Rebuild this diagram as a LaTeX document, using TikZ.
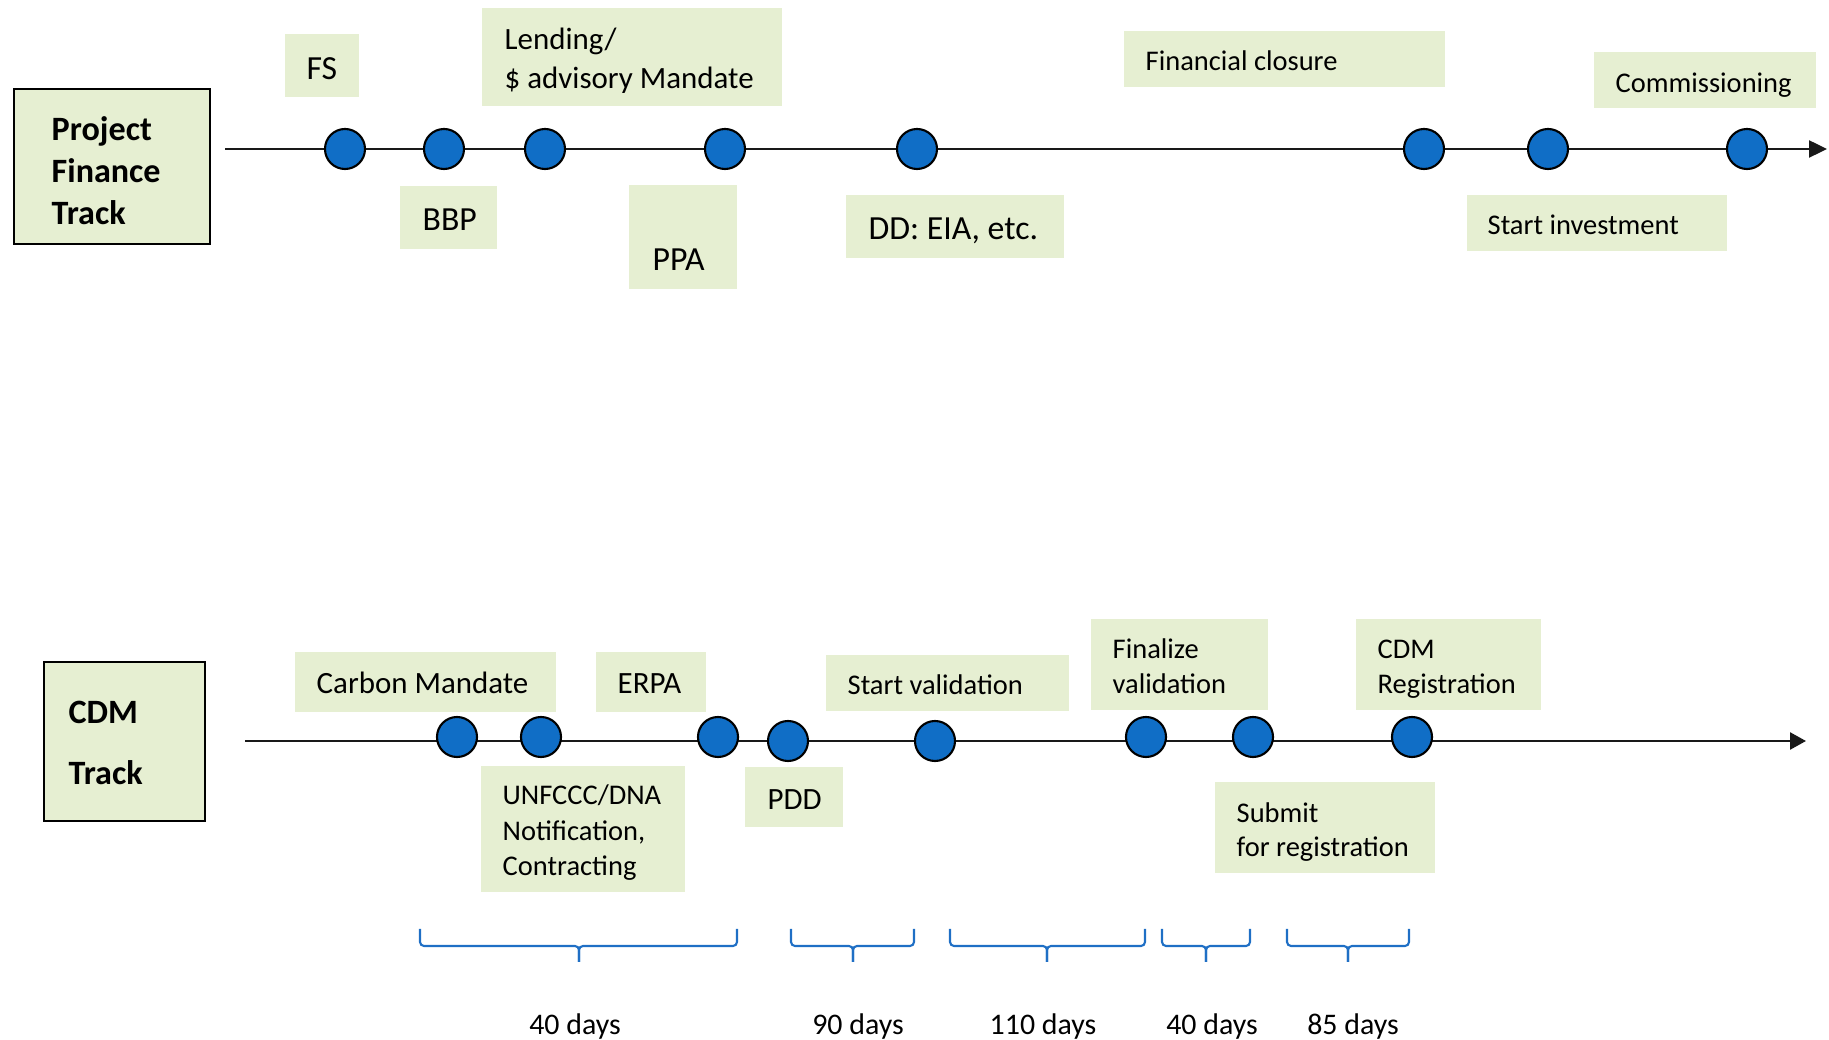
\documentclass[tikz,border=0pt]{standalone}
\usepackage{fontspec}
\setmainfont{Carlito}
\usetikzlibrary{arrows.meta,fit}

\definecolor{boxgreen}{RGB}{230,239,210}
\definecolor{dotblue}{RGB}{16,110,198}
\definecolor{bracketblue}{RGB}{31,111,197}

\begin{document}
\begin{tikzpicture}[x=0.01cm,y=-0.01cm,
  tag/.style={fill=boxgreen,draw=none,inner sep=0pt},
  trackbox/.style={fill=boxgreen,draw=black,line width=0.7pt,inner sep=0pt},
  txt/.style={anchor=base west,inner sep=0pt,text=black,yshift=-0.022cm},
  big/.style={txt,font=\fontsize{9.6pt}{11.5pt}\selectfont},
  mid/.style={txt,font=\fontsize{8.8pt}{10.5pt}\selectfont},
  small/.style={txt,font=\fontsize{8.1pt}{9.7pt}\selectfont},
  head/.style={txt,font=\fontsize{9.7pt}{11.6pt}\selectfont\bfseries},
  days/.style={anchor=base,inner sep=0pt,yshift=-0.035cm,font=\fontsize{8.5pt}{10pt}\selectfont},
  axis/.style={line width=0.7pt,draw=black!90,-{Triangle[length=1.8mm,width=1.7mm]}},
  dot/.style={circle,fill=dotblue,draw=black,line width=0.6pt,minimum size=0.4cm,inner sep=0pt},
  brc/.style={draw=bracketblue,line width=0.6pt,rounded corners=0.04cm}]

\useasboundingbox (0,0) rectangle (1829,1040);

% ---------------- Project finance track ----------------
\node[trackbox,fit={(14,89) (210,244)}] (pf) {};
\node[head] (pf-1) at (51,138) {Project};
\node[head] (pf-2) at (51,180) {Finance};
\node[head] (pf-3) at (51,222) {Track};

\coordinate (pf-start) at (225,149);
\coordinate (pf-end) at (1827,149);
\draw[axis] (pf-start) -- (pf-end);

\node[dot] (p1) at (345,149) {};
\node[dot] (p2) at (444,149) {};
\node[dot] (p3) at (545,149) {};
\node[dot] (p4) at (725,149) {};
\node[dot] (p5) at (917,149) {};
\node[dot] (p6) at (1424,149) {};
\node[dot] (p7) at (1548,149) {};
\node[dot] (p8) at (1747,149) {};

\node[tag,fit={(285,34) (359,97)}] (fs) {};
\node[big] (fs-t) at (306,77) {FS};

\node[tag,fit={(482,8) (782,106)}] (lend) {};
\node[mid] (lend-1) at (504,47) {Lending/};
\node[mid] (lend-2) at (504,86) {\$ advisory Mandate};

\node[tag,fit={(400,186) (497,249)}] (bbp) {};
\node[big] (bbp-t) at (422,228) {BBP};

\node[tag,fit={(629,185) (737,289)}] (ppa) {};
\node[big] (ppa-t) at (652,268) {PPA};

\node[tag,fit={(846,195) (1064,258)}] (dd) {};
\node[big] (dd-t) at (868,237) {DD: EIA, etc.};

\node[tag,fit={(1124,31) (1445,87)}] (fc) {};
\node[small] (fc-t) at (1145,68) {Financial closure};

\node[tag,fit={(1594,52) (1816,108)}] (com) {};
\node[small] (com-t) at (1615,90) {Commissioning};

\node[tag,fit={(1467,195) (1727,251)}] (si) {};
\node[small] (si-t) at (1487,232) {Start investment};

% ---------------- CDM track ----------------
\node[trackbox,fit={(44,662) (205,821)}] (cdm) {};
\node[head] (cdm-1) at (68,721) {CDM};
\node[head] (cdm-2) at (68,782) {Track};

\coordinate (cdm-start) at (245,741);
\coordinate (cdm-end) at (1806,741);
\draw[axis,-{Triangle[length=1.6mm,width=1.7mm]}] (cdm-start) -- (cdm-end);

\node[dot] (c1) at (457,737) {};
\node[dot] (c2) at (541,737) {};
\node[dot] (c3) at (718,737) {};
\node[dot] (c4) at (788,741) {};
\node[dot] (c5) at (935,741) {};
\node[dot] (c6) at (1146,737) {};
\node[dot] (c7) at (1253,737) {};
\node[dot] (c8) at (1412,737) {};

\node[tag,fit={(295,652) (556,712)}] (cm) {};
\node[mid] (cm-t) at (316,691) {Carbon Mandate};

\node[tag,fit={(596,652) (706,712)}] (erpa) {};
\node[mid] (erpa-t) at (617,691) {ERPA};

\node[tag,fit={(481,766) (685,892)}] (unf) {};
\node[small] (unf-1) at (502,802) {UNFCCC/DNA};
\node[small] (unf-2) at (502,838) {Notification,};
\node[small] (unf-3) at (502,873) {Contracting};

\node[tag,fit={(745,767) (843,827)}] (pdd) {};
\node[mid] (pdd-t) at (767,807) {PDD};

\node[tag,fit={(826,655) (1069,711)}] (sv) {};
\node[small] (sv-t) at (847,692) {Start validation};

\node[tag,fit={(1091,619) (1268,710)}] (fv) {};
\node[small] (fv-1) at (1112,656) {Finalize};
\node[small] (fv-2) at (1112,691) {validation};

\node[tag,fit={(1356,619) (1541,710)}] (reg) {};
\node[small] (reg-1) at (1377,656) {CDM};
\node[small] (reg-2) at (1377,691) {Registration};

\node[tag,fit={(1215,782) (1435,873)}] (sub) {};
\node[small] (sub-1) at (1236,820) {Submit};
\node[small] (sub-2) at (1236,854) {for registration};

% ---------------- Durations ----------------
\foreach \l/\m/\r in {420/579/737, 791/853/914, 950/1047/1145, 1162/1206/1250, 1287/1348/1409}{
  \draw[brc] (\l,929) -- (\l,946) -- (\m,946) -- (\m,962);
  \draw[brc] (\r,929) -- (\r,946) -- (\m,946) -- (\m,962);
}

\node[days] (d1) at (575,1031) {40 days};
\node[days] (d2) at (858,1031) {90 days};
\node[days] (d3) at (1043,1031) {110 days};
\node[days] (d4) at (1212,1031) {40 days};
\node[days] (d5) at (1353,1031) {85 days};

\end{tikzpicture}
\end{document}
